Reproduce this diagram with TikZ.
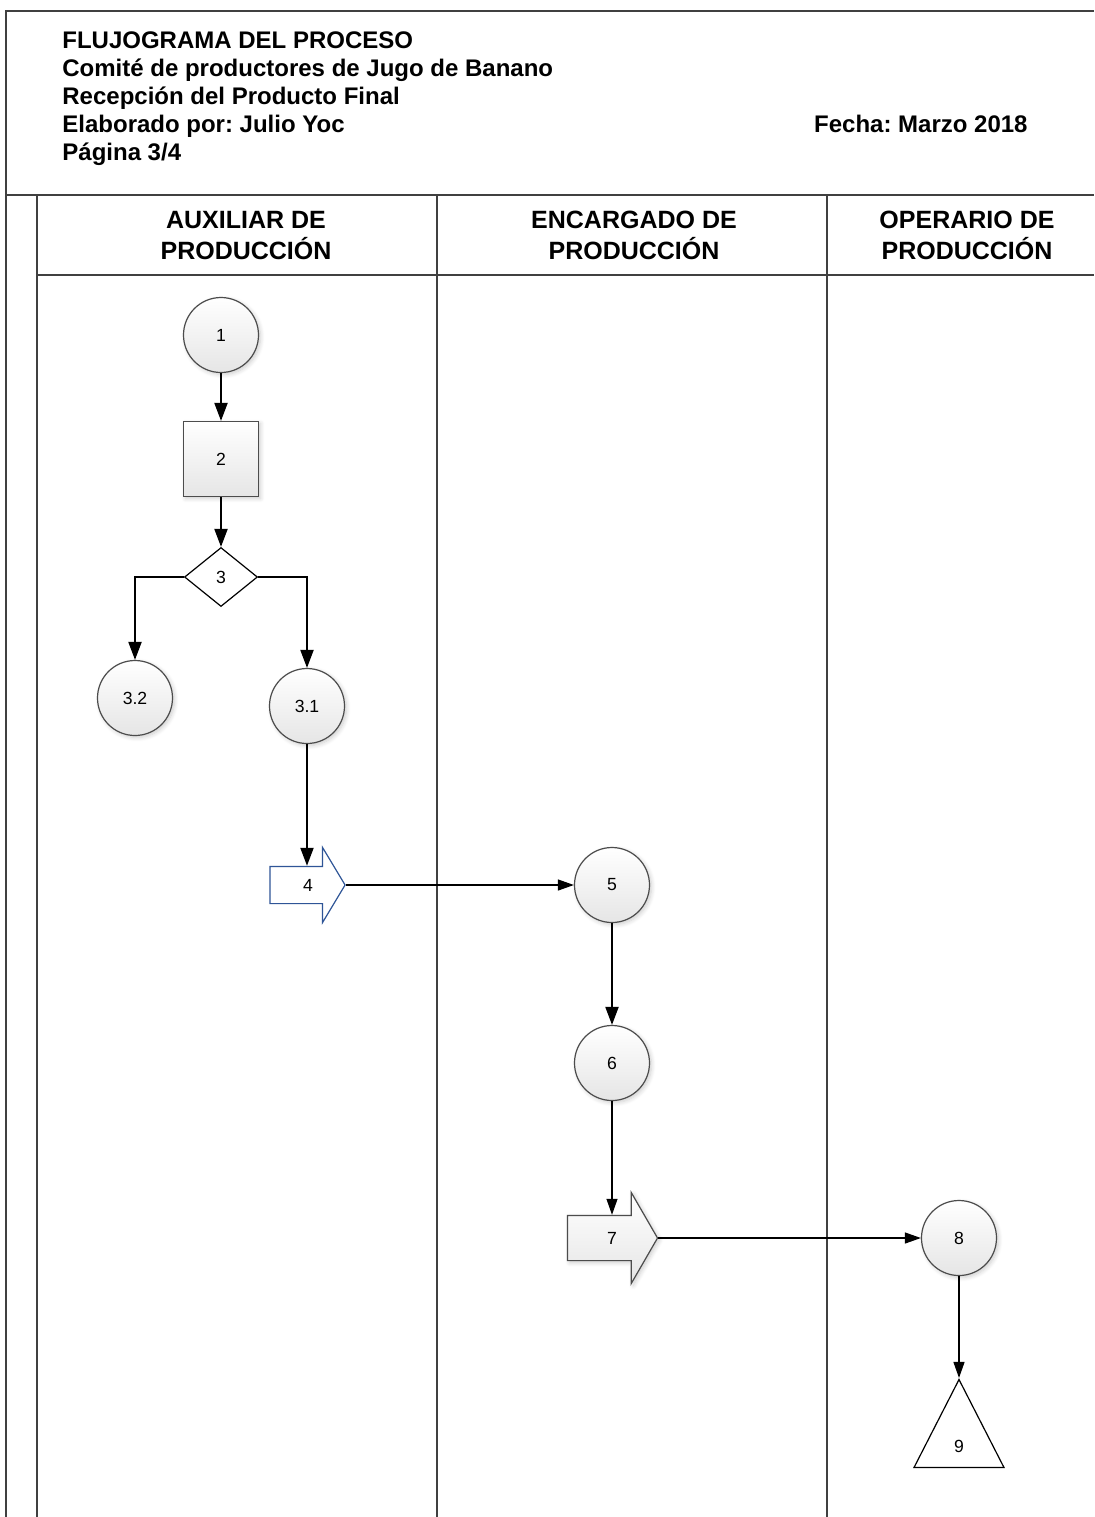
\documentclass[tikz,border=0pt]{standalone}
\usepackage{fontspec}
\setmainfont{Liberation Sans}
\frenchspacing
\usetikzlibrary{positioning, arrows.meta, calc, shapes.geometric, shapes.arrows, shadows.blur}

\begin{document}
\begin{tikzpicture}[x=0.5pt, y=-0.5pt,
  frame/.style={draw=black!75, line width=0.8pt},
  hdr/.style={font=\fontsize{12}{14}\selectfont\bfseries, anchor=base west, inner sep=0pt},
  lane/.style={font=\fontsize{12.5}{15.5}\selectfont\bfseries, align=center, anchor=north, inner sep=0pt},
  num/.style={font=\fontsize{8.8}{10}\selectfont},
  soft/.style={top color=white, bottom color=black!10,
               blur shadow={shadow xshift=1pt, shadow yshift=-1pt, shadow opacity=20, shadow blur steps=6}},
  conn/.style={circle, draw=black!70, line width=0.6pt, minimum size=37.5pt, inner sep=0pt, num, soft},
  task/.style={rectangle, draw=black!70, line width=0.6pt, minimum size=37.5pt, inner sep=0pt, num, soft},
  decide/.style={diamond, draw, line width=0.6pt, fill=white, minimum width=36.5pt, minimum height=29.5pt,
                 inner sep=0pt, num},
  send/.style={single arrow, line width=0.6pt, text height=5pt, text depth=0pt, inner xsep=0pt},
  store/.style={isosceles triangle, shape border rotate=90, isosceles triangle stretches, draw,
                line width=0.6pt, fill=white, minimum width=45pt, minimum height=44pt, inner sep=0pt},
  arr/.style={-{Triangle[length=9pt, width=6.5pt]}, line width=1pt},
  arrt/.style={-{Triangle[length=8pt, width=5.5pt]}, line width=0.6pt},
]
\useasboundingbox (0,0) rectangle (1094,1517);

% marco y carriles
\draw[frame] (1094,11) -- (6,11) -- (6,1517);
\draw[frame] (6,195) -- (1094,195);
\draw[frame] (37,195) -- (37,1517);
\draw[frame] (37,275) -- (1094,275);
\foreach \x in {437,827} \draw[frame] (\x,195) -- (\x,1517);

% encabezado
\foreach \t [count=\i from 0] in {FLUJOGRAMA DEL PROCESO, Comité de productores de Jugo de Banano,
    Recepción del Producto Final, Elaborado por: Julio Yoc, Página 3/4}
  \node[hdr] (h\i) at (62, 48+28.2*\i) {\t};
\node[hdr, anchor=base east] (fecha) at (1028,0 |- h3.base) {Fecha: Marzo 2018};

\node[lane] (aux) at (246,211) {AUXILIAR DE\\PRODUCCIÓN};
\node[lane] (enc) at (634,211) {ENCARGADO DE\\PRODUCCIÓN};
\node[lane] (ope) at (967,211) {OPERARIO DE\\PRODUCCIÓN};

% nodos
\node[conn] (n1) at (221,335) {1};
\node[task] (n2) at (221,459) {2};
\node[decide] (n3) at (221,577) {3};
\node[conn] (n32) at (135,698) {3.2};
\node[conn] (n31) at (307,706) {3.1};
\node[send, draw={rgb,255:red,47;green,85;blue,151}, fill=white, inner ysep=6.5pt,
      minimum height=37.5pt, single arrow head extend=9.5pt, single arrow tip angle=118,
      label={[num, xshift=3pt]center:4}] (n4) at (302,885) {};
\node[conn] (n5) at (612,885) {5};
\node[conn] (n6) at (612,1063) {6};
\node[send, draw=black!70, soft, inner ysep=8.5pt,
      minimum height=45pt, single arrow head extend=11.5pt, single arrow tip angle=120,
      label={[num, xshift=3pt]center:7}] (n7) at (606,1238) {};
\node[conn] (n8) at (959,1238) {8};
\node[store] (n9) at (959,1440) {};
\node[num] (n9t) at ($(n9.south)!0.24!(n9.north)$) {9};

% conectores
\draw[arr] (n1) -- (n2);
\draw[arr] (n2) -- (n3);
\draw[arr] (n3.west) -| (n32);
\draw[arr] (n3.east) -| (n31);
\draw[arr] (n31) -- (n31 |- n4.north);
\draw[arrt] (n4.tip) -- (n5);
\draw[arr] (n5) -- (n6);
\draw[arrt] (n6) -- (n6 |- n7.north);
\draw[arrt] (n7.tip) -- (n8);
\draw[arrt] (n8) -- (n9.apex);
\end{tikzpicture}
\end{document}
